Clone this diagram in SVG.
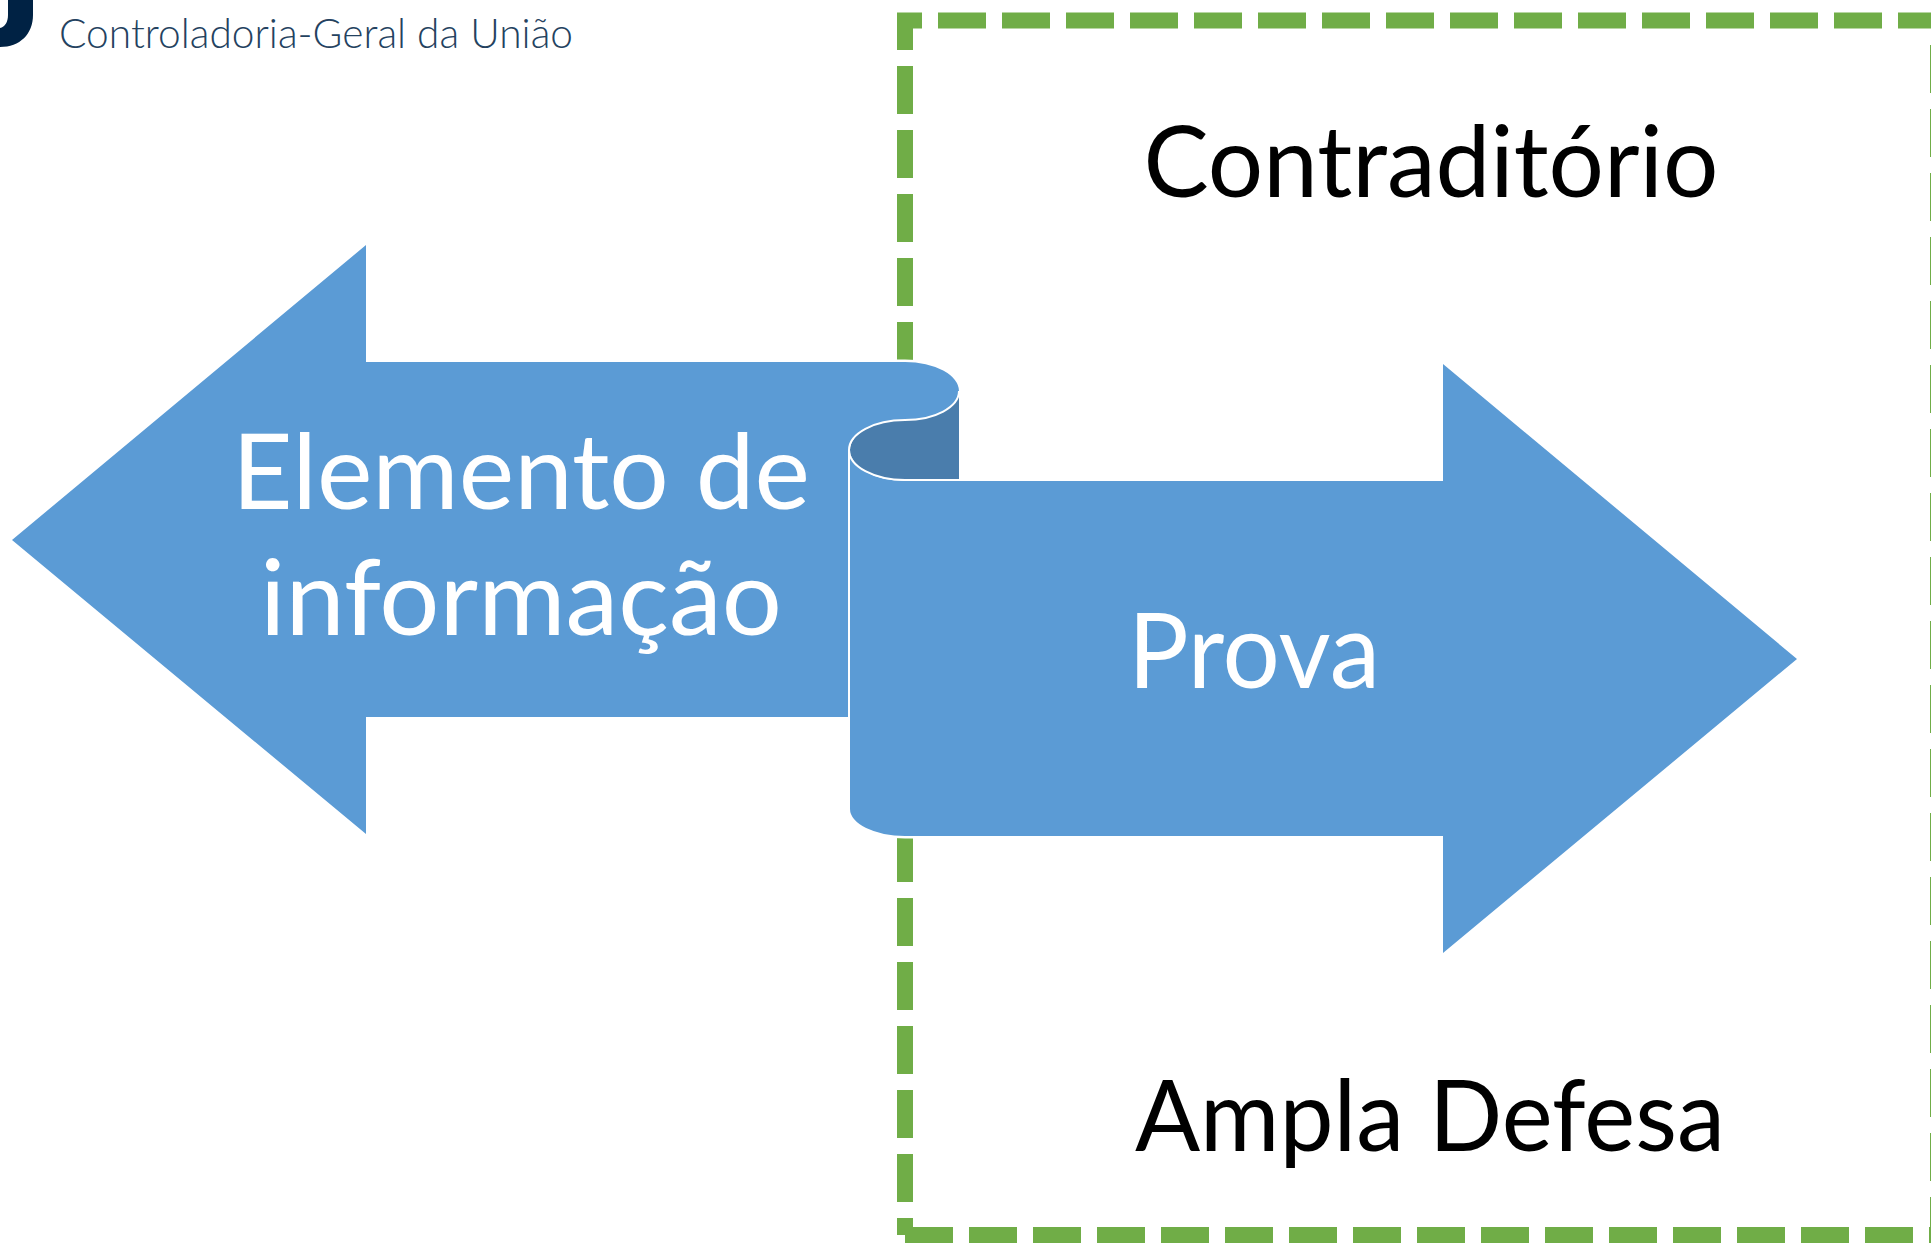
<svg xmlns="http://www.w3.org/2000/svg" width="1931" height="1243" viewBox="0 0 1931 1243">
<style>
.dash{fill:none;stroke:#70ad47;stroke-width:16;stroke-dasharray:48 16}
.solid{stroke-dasharray:none}
.arrow{fill:#5b9bd5}
.halo{fill:#fff;stroke:#fff;stroke-width:5}
.edge{fill:none;stroke:#fff;stroke-width:2}
.big{font-family:"Lato","Liberation Sans",sans-serif;text-anchor:middle}
.w{fill:#fff;font-size:105px}
.k{fill:#000;font-size:98px}
</style>
<rect width="1931" height="1243" fill="#fff"/>
<g id="logo">
<path d="M0 47C20 47 33 34 33 15V0H8V15C8 22 5 27 0 28Z" fill="#002244"/>
<text x="59" y="48" font-family="Lato,'Liberation Sans',sans-serif" font-weight="300" font-size="42" fill="#24425f" textLength="514" lengthAdjust="spacingAndGlyphs">Controladoria-Geral da União</text>
</g>
<g id="region">
<path class="dash solid" d="M897 20.500H922M905 13V50"/>
<path class="dash" d="M905 66V1235"/>
<path class="dash" d="M938 20.500H1939"/>
<path class="dash" d="M905 1235H1939"/>
<path class="dash" d="M1938 45V1243"/>
</g>
<g id="ribbon">
<path class="halo" d="M12 540L366 245V362H905A54 29 0 0 1 905 420A55 30 0 0 0 849 450V717H366V834Z"/>
<path class="halo" d="M849 450V809A56 27 0 0 0 905 836H1443V953L1797 659L1443 364V481H959V391L905 420Z"/>
<path class="arrow" d="M12 540L366 245V362H905A54 29 0 0 1 905 420A55 30 0 0 0 849 450V717H366V834Z"/>
<path d="M959 391A54 29 0 0 1 905 420A55 30 0 0 0 850 450A55 30 0 0 0 905 480H959Z" fill="#4a7dac"/>
<path class="arrow" d="M850 450A55 31 0 0 0 905 481H1443V364L1797 659L1443 953V836H905A55 27 0 0 1 850 809Z"/>
<path class="edge" d="M959 391A54 29 0 0 1 905 420A56 30 0 0 0 849 450V717"/>
<path class="edge" d="M849 450A56 30 0 0 0 905 480H959"/>
</g>
<g id="labels">
<text class="big w" x="521" y="509" textLength="578" lengthAdjust="spacingAndGlyphs">Elemento de</text>
<text class="big w" x="521" y="635" textLength="522" lengthAdjust="spacingAndGlyphs">informação</text>
<text class="big w" x="1254" y="688" textLength="252" lengthAdjust="spacingAndGlyphs">Prova</text>
<text class="big k" x="1431" y="197" textLength="575" lengthAdjust="spacingAndGlyphs">Contraditório</text>
<text class="big k" x="1430" y="1151" textLength="590" lengthAdjust="spacingAndGlyphs">Ampla Defesa</text>
</g>
</svg>
